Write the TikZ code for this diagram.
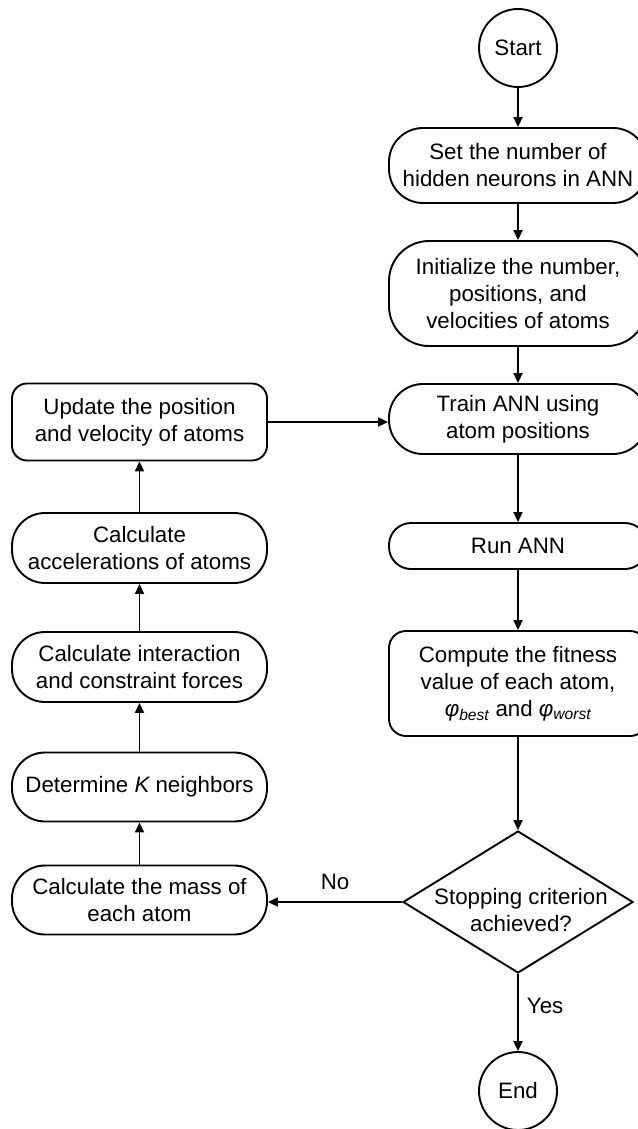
\documentclass[tikz,border=0pt]{standalone}
\usepackage{fontspec}
\setmainfont{Liberation Sans}
\usetikzlibrary{arrows.meta,shapes.geometric}
\begin{document}
\begin{tikzpicture}[x=1pt,y=-1pt,
  every node/.style={font=\fontsize{22.3}{27}\selectfont, text=black},
  box/.style={draw, line width=1.9pt, align=center, inner sep=0pt},
  term/.style={draw, circle, line width=1.9pt, minimum size=78pt, inner sep=0pt},
  flow/.style={line width=1.9pt, -{Triangle[length=10pt,width=9pt]}},
  lbl/.style={inner sep=0pt}
]
\useasboundingbox[fill=white] (0,0) rectangle (637,1129);

% main column
\node[term] (start) at (518,48) {Start};
\node[box, minimum width=258pt, minimum height=75pt, rounded corners=34pt] (set) at (518,165.5)
  {Set the number of\\hidden neurons in ANN};
\node[box, minimum width=258pt, minimum height=105pt, rounded corners=40pt] (init) at (518,293.5)
  {Initialize the number,\\positions, and\\velocities of atoms};
\node[box, minimum width=258pt, minimum height=70pt, rounded corners=34pt] (train) at (518,419)
  {Train ANN using\\atom positions};
\node[box, minimum width=258pt, minimum height=46pt, rounded corners=22pt] (run) at (518,546)
  {Run ANN};
\node[box, minimum width=258pt, minimum height=105pt, rounded corners=17pt] (fit) at (518,683.5)
  {Compute the fitness\\value of each atom,\\{\itshape φ}\textsubscript{\itshape best} and {\itshape φ}\textsubscript{\itshape worst}};
\node[draw, diamond, line width=1.9pt, minimum width=230pt, minimum height=142pt, inner sep=0pt] (stop) at (518,902) {};
\node[lbl, align=center] (stoptext) at ([shift={(3,8)}]stop.center) {Stopping criterion\\achieved?};
\node[term] (end) at (518,1091) {End};

% return column
\node[box, minimum width=255pt, minimum height=77pt, rounded corners=15pt] (upd) at (139.5,422)
  {Update the position\\and velocity of atoms};
\node[box, minimum width=255pt, minimum height=70pt, rounded corners=33pt] (acc) at (139.5,548)
  {Calculate\\accelerations of atoms};
\node[box, minimum width=255pt, minimum height=70pt, rounded corners=33pt] (force) at (139.5,667)
  {Calculate interaction\\and constraint forces};
\node[box, minimum width=255pt, minimum height=69pt, rounded corners=33pt] (knn) at (139.5,787)
  {Determine {\itshape K} neighbors};
\node[box, minimum width=255pt, minimum height=69pt, rounded corners=33pt] (mass) at (139.5,900)
  {Calculate the mass of\\each atom};

% connectors
\draw[flow] (start) -- (set);
\draw[flow] (set) -- (init);
\draw[flow] (init) -- (train);
\draw[flow] (train) -- (run);
\draw[flow] (run) -- (fit);
\draw[flow] (fit) -- (stop.north);
\draw[flow] (stop.south) -- node[lbl, right=8pt, pos=0.42] {Yes} (end);
\draw[flow] (stop.west) -- node[lbl, above=11pt, pos=0.5] {No} (mass.east |- stop.west);
\draw[flow] (mass) -- (knn);
\draw[flow] (knn) -- (force);
\draw[flow] (force) -- (acc);
\draw[flow] (acc) -- (upd);
\draw[flow] (upd.east) -- (train.west |- upd.east);
\end{tikzpicture}
\end{document}
